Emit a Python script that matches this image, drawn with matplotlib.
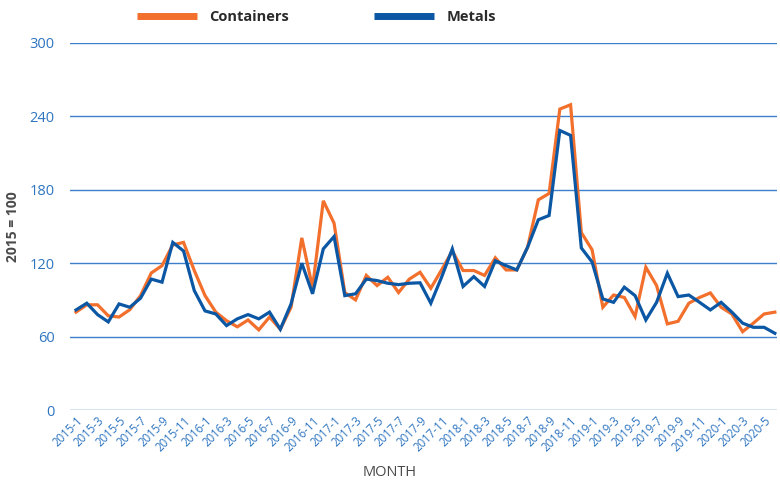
import matplotlib
matplotlib.use("Agg")
import matplotlib.pyplot as plt
import numpy as np

months = [f"{y}-{m}" for y in range(2015, 2021) for m in range(1, 13)][:66]

containers = [80, 86, 86, 77, 76, 82, 93.5, 112, 118, 135, 137, 114, 93.5, 80, 73, 68,
              73.6, 65.5, 76, 66, 84, 140.7, 100, 171, 152.7, 96, 90, 110, 101.7, 108.5,
              96, 107, 112.6, 99.5, 114.5, 130, 114, 114, 110, 124.4, 114.5, 114.5, 133,
              171.8, 177, 246, 249.5, 145, 131, 84, 94, 92, 76.4, 116.7, 101.7, 70.4, 72.5,
              87.3, 92, 95.7, 84, 78.5, 64, 71, 78.5, 80]
metals = [81.8, 87.3, 78, 72, 86.7, 84, 91.4, 107, 104.5, 137, 130, 97.6, 81, 78.5, 69, 74.5,
          78, 74.5, 80, 66, 86.7, 120, 95, 131.7, 141.8, 93.5, 95, 107, 105.8, 103.6,
          102.5, 103.6, 104, 87.3, 108.5, 131.7, 101, 109, 101, 122, 118, 114.5, 133,
          155.5, 159, 228.5, 224.5, 132.5, 121, 90.8, 88, 100.4, 93.5, 73.6, 88, 111.8, 92.7,
          94, 88, 81.8, 88, 80, 71, 67.6, 67.6, 62.7]

yticks = [0, 60, 120, 180, 240, 300]

ORANGE = "#f26f2c"
BLUE = "#0b57a4"
GRID = "#3d7fc8"
TICK = "#2e75c0"
GRAY = "#4a4a4a"

plt.rcParams['font.family'] = ['Open Sans', 'DejaVu Sans']

fig = plt.figure(figsize=(7.8, 4.8), dpi=100)
ax = fig.add_axes([70/780, 1-410/480, 707/780, 367/480])

x = np.arange(len(months))
l1, = ax.plot(x, containers, color=ORANGE, lw=2.3, label="Containers", solid_joinstyle='miter')
l2, = ax.plot(x, metals, color=BLUE, lw=2.3, label="Metals", solid_joinstyle='miter')

ax.set_ylim(0, 300)
ax.set_xlim(-0.56, 65.2)
ax.set_yticks(yticks)
ax.set_yticklabels([str(v) for v in yticks], color=TICK, fontsize=10.5)
for v in yticks:
    ax.axhline(v, color=GRID, lw=1.0, zorder=0)
for s in ax.spines.values():
    s.set_visible(False)
ax.tick_params(axis='y', length=0, pad=11)
ax.tick_params(axis='x', length=0, pad=3)

ax.set_xticks(x[::2])
ax.set_xticklabels(months[::2], rotation=45, ha='right', rotation_mode='anchor',
                   color=TICK, fontsize=8.3)

ax.set_ylabel("2015 = 100", color=GRAY, fontsize=10, fontweight='bold')
ax.yaxis.set_label_coords(-50/707, 0.5)
ax.set_xlabel("MONTH", color=GRAY, fontsize=10.5)
ax.xaxis.set_label_coords((390-70)/707, -55/367)

common = dict(loc='center left', frameon=False, handlelength=4.1, handletextpad=0.85,
              borderpad=0, borderaxespad=0, prop={'weight': 'bold', 'size': 10.5})
leg1 = fig.legend(handles=[l1], bbox_to_anchor=(137/780, 1-17/480), **common)
leg2 = fig.legend(handles=[l2], bbox_to_anchor=(374/780, 1-17/480), **common)
for lg in (leg1, leg2):
    for t in lg.get_texts():
        t.set_color("#2a2a2a")
    for h in lg.legend_handles:
        h.set_linewidth(5)
        h.set_solid_capstyle('butt')

fig.savefig("out.png", dpi=100)
